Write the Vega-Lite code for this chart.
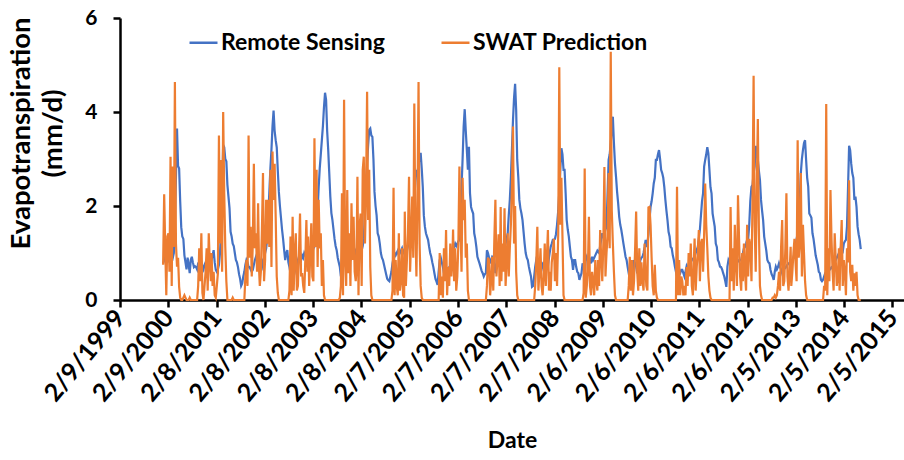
{
"$schema":"https://vega.github.io/schema/vega-lite/v6.json",
"width":784,"height":282,
"autosize":{"type":"none"},
"padding":{"left":120,"top":18,"right":0,"bottom":160},
"background":"white",
"config":{"font":"Lato","view":{"stroke":null}},
"data":{"values":[
{"d":"2000-01-01","rs":0.78,"sw":0.75},{"d":"2000-01-09","rs":0.85,"sw":2.25},{"d":"2000-01-17","rs":0.92,"sw":1.13},{"d":"2000-01-25","rs":0.8,"sw":0.1},{"d":"2000-02-02","rs":0.95,"sw":1.35},{"d":"2000-02-10","rs":0.85,"sw":1.42},{"d":"2000-02-18","rs":0.9,"sw":0.6},{"d":"2000-02-26","rs":1.0,"sw":3.05},{"d":"2000-03-06","rs":0.95,"sw":0.3},{"d":"2000-03-14","rs":0.9,"sw":2.84},{"d":"2000-03-22","rs":1.0,"sw":1.13},{"d":"2000-03-30","rs":1.6,"sw":4.64},{"d":"2000-04-07","rs":2.6,"sw":1.2},{"d":"2000-04-15","rs":3.65,"sw":0.71},{"d":"2000-04-23","rs":2.85,"sw":0.9},{"d":"2000-05-01","rs":2.8,"sw":0.28},{"d":"2000-05-09","rs":2.1,"sw":0.05},{"d":"2000-05-17","rs":1.55,"sw":0},{"d":"2000-05-25","rs":1.35,"sw":0},{"d":"2000-06-02","rs":1.3,"sw":0.05},{"d":"2000-06-10","rs":0.95,"sw":0.1},{"d":"2000-06-18","rs":0.8,"sw":0.05},{"d":"2000-06-26","rs":0.65,"sw":0},{"d":"2000-07-04","rs":0.9,"sw":0},{"d":"2000-07-12","rs":0.75,"sw":0},{"d":"2000-07-20","rs":0.57,"sw":0.05},{"d":"2000-07-28","rs":0.85,"sw":0},{"d":"2000-08-05","rs":0.92,"sw":0},{"d":"2000-08-13","rs":0.8,"sw":0},{"d":"2000-08-21","rs":0.7,"sw":0},{"d":"2000-08-29","rs":0.72,"sw":0},{"d":"2000-09-06","rs":0.7,"sw":0},{"d":"2000-09-14","rs":0.65,"sw":0},{"d":"2000-09-22","rs":0.78,"sw":0.3},{"d":"2000-09-30","rs":0.8,"sw":1.1},{"d":"2000-10-08","rs":0.85,"sw":0.4},{"d":"2000-10-16","rs":0.8,"sw":1.42},{"d":"2000-10-24","rs":0.7,"sw":0.15},{"d":"2000-11-01","rs":0.65,"sw":0},{"d":"2000-11-09","rs":0.75,"sw":0.3},{"d":"2000-11-17","rs":0.8,"sw":0.6},{"d":"2000-11-25","rs":0.85,"sw":1.1},{"d":"2000-12-03","rs":0.8,"sw":0.2},{"d":"2000-12-11","rs":0.75,"sw":1.42},{"d":"2000-12-19","rs":0.85,"sw":0.78},{"d":"2000-12-27","rs":0.8,"sw":0.4},
{"d":"2001-01-01","rs":0.85,"sw":1.0},{"d":"2001-01-09","rs":0.95,"sw":0.3},{"d":"2001-01-17","rs":1.06,"sw":0.6},{"d":"2001-01-25","rs":0.8,"sw":0.1},{"d":"2001-02-02","rs":0.64,"sw":0.05},{"d":"2001-02-10","rs":0.6,"sw":0.3},{"d":"2001-02-18","rs":0.65,"sw":0.57},{"d":"2001-02-26","rs":0.75,"sw":3.5},{"d":"2001-03-06","rs":1.0,"sw":1.2},{"d":"2001-03-14","rs":1.5,"sw":2.98},{"d":"2001-03-22","rs":2.3,"sw":0.6},{"d":"2001-03-30","rs":3.3,"sw":4.0},{"d":"2001-04-07","rs":3.25,"sw":2.27},{"d":"2001-04-15","rs":3.0,"sw":1.13},{"d":"2001-04-23","rs":2.95,"sw":0.4},{"d":"2001-05-01","rs":2.45,"sw":0},{"d":"2001-05-09","rs":2.2,"sw":0},{"d":"2001-05-17","rs":1.95,"sw":0},{"d":"2001-05-25","rs":1.45,"sw":0},{"d":"2001-06-02","rs":1.35,"sw":0},{"d":"2001-06-10","rs":1.2,"sw":0.05},{"d":"2001-06-18","rs":1.15,"sw":0},{"d":"2001-06-26","rs":1.0,"sw":0},{"d":"2001-07-04","rs":0.85,"sw":0},{"d":"2001-07-12","rs":0.8,"sw":0},{"d":"2001-07-20","rs":0.7,"sw":0},{"d":"2001-07-28","rs":0.55,"sw":0},{"d":"2001-08-05","rs":0.45,"sw":0},{"d":"2001-08-13","rs":0.3,"sw":0},{"d":"2001-08-21","rs":0.35,"sw":0},{"d":"2001-08-29","rs":0.5,"sw":0},{"d":"2001-09-06","rs":0.6,"sw":0},{"d":"2001-09-14","rs":0.75,"sw":0.5},{"d":"2001-09-22","rs":0.85,"sw":0.85},{"d":"2001-09-30","rs":0.8,"sw":0.3},{"d":"2001-10-08","rs":0.7,"sw":3.5},{"d":"2001-10-16","rs":0.7,"sw":0.9},{"d":"2001-10-24","rs":0.65,"sw":1.56},{"d":"2001-11-01","rs":0.6,"sw":0.5},{"d":"2001-11-09","rs":0.64,"sw":1.2},{"d":"2001-11-17","rs":0.75,"sw":2.9},{"d":"2001-11-25","rs":0.85,"sw":1.1},{"d":"2001-12-03","rs":0.92,"sw":1.42},{"d":"2001-12-11","rs":0.85,"sw":0.6},{"d":"2001-12-19","rs":0.8,"sw":2.06},{"d":"2001-12-27","rs":0.78,"sw":0.6},
{"d":"2002-01-01","rs":0.85,"sw":0.3},{"d":"2002-01-09","rs":0.75,"sw":0.6},{"d":"2002-01-17","rs":0.7,"sw":1.5},{"d":"2002-01-25","rs":0.85,"sw":2.7},{"d":"2002-02-02","rs":0.9,"sw":0.4},{"d":"2002-02-10","rs":1.0,"sw":0.85},{"d":"2002-02-18","rs":1.1,"sw":2.13},{"d":"2002-02-26","rs":1.3,"sw":1.2},{"d":"2002-03-06","rs":1.8,"sw":2.13},{"d":"2002-03-14","rs":2.3,"sw":1.13},{"d":"2002-03-22","rs":2.8,"sw":2.77},{"d":"2002-03-30","rs":3.2,"sw":0.7},{"d":"2002-04-07","rs":3.7,"sw":3.16},{"d":"2002-04-15","rs":4.03,"sw":2.13},{"d":"2002-04-23","rs":3.6,"sw":2.9},{"d":"2002-05-01","rs":3.4,"sw":1.77},{"d":"2002-05-09","rs":3.25,"sw":0.5},{"d":"2002-05-17","rs":2.75,"sw":0.15},{"d":"2002-05-25","rs":2.3,"sw":0},{"d":"2002-06-02","rs":2.0,"sw":0},{"d":"2002-06-10","rs":1.75,"sw":0},{"d":"2002-06-18","rs":1.5,"sw":0},{"d":"2002-06-26","rs":1.3,"sw":0},{"d":"2002-07-04","rs":1.06,"sw":0},{"d":"2002-07-12","rs":0.85,"sw":0},{"d":"2002-07-20","rs":1.0,"sw":0},{"d":"2002-07-28","rs":1.06,"sw":0},{"d":"2002-08-05","rs":0.8,"sw":0},{"d":"2002-08-13","rs":0.7,"sw":0.2},{"d":"2002-08-21","rs":0.57,"sw":1.35},{"d":"2002-08-29","rs":0.5,"sw":0.1},{"d":"2002-09-06","rs":0.42,"sw":1.77},{"d":"2002-09-14","rs":0.5,"sw":0.2},{"d":"2002-09-22","rs":0.6,"sw":1.0},{"d":"2002-09-30","rs":0.7,"sw":1.42},{"d":"2002-10-08","rs":0.75,"sw":0.2},{"d":"2002-10-16","rs":0.85,"sw":0.3},{"d":"2002-10-24","rs":0.92,"sw":1.0},{"d":"2002-11-01","rs":0.9,"sw":1.84},{"d":"2002-11-09","rs":0.85,"sw":0.5},{"d":"2002-11-17","rs":0.95,"sw":0.57},{"d":"2002-11-25","rs":0.9,"sw":0.3},{"d":"2002-12-03","rs":1.0,"sw":0.15},{"d":"2002-12-11","rs":0.95,"sw":0.85},{"d":"2002-12-19","rs":0.92,"sw":1.7},{"d":"2002-12-27","rs":0.88,"sw":0.6},
{"d":"2003-01-01","rs":0.85,"sw":1.35},{"d":"2003-01-09","rs":0.85,"sw":0.3},{"d":"2003-01-17","rs":0.95,"sw":0.92},{"d":"2003-01-25","rs":1.06,"sw":1.63},{"d":"2003-02-02","rs":1.0,"sw":0.5},{"d":"2003-02-10","rs":1.1,"sw":0.4},{"d":"2003-02-18","rs":1.13,"sw":3.44},{"d":"2003-02-26","rs":1.3,"sw":1.13},{"d":"2003-03-06","rs":1.6,"sw":2.77},{"d":"2003-03-14","rs":1.9,"sw":0.7},{"d":"2003-03-22","rs":2.4,"sw":2.13},{"d":"2003-03-30","rs":2.8,"sw":1.1},{"d":"2003-04-07","rs":3.1,"sw":1.42},{"d":"2003-04-15","rs":3.4,"sw":0.3},{"d":"2003-04-23","rs":3.7,"sw":0.85},{"d":"2003-05-01","rs":4.1,"sw":0.1},{"d":"2003-05-09","rs":4.41,"sw":0},{"d":"2003-05-17","rs":4.26,"sw":0},{"d":"2003-05-25","rs":3.6,"sw":0},{"d":"2003-06-02","rs":3.2,"sw":0},{"d":"2003-06-10","rs":2.7,"sw":0},{"d":"2003-06-18","rs":2.2,"sw":0},{"d":"2003-06-26","rs":1.85,"sw":0},{"d":"2003-07-04","rs":1.7,"sw":0},{"d":"2003-07-12","rs":1.5,"sw":0},{"d":"2003-07-20","rs":1.3,"sw":0},{"d":"2003-07-28","rs":1.15,"sw":0},{"d":"2003-08-05","rs":1.06,"sw":0},{"d":"2003-08-13","rs":0.9,"sw":0},{"d":"2003-08-21","rs":0.8,"sw":0},{"d":"2003-08-29","rs":0.7,"sw":0.05},{"d":"2003-09-06","rs":0.5,"sw":0.3},{"d":"2003-09-14","rs":0.6,"sw":2.27},{"d":"2003-09-22","rs":0.71,"sw":0.1},{"d":"2003-09-30","rs":0.8,"sw":4.26},{"d":"2003-10-08","rs":0.85,"sw":0.85},{"d":"2003-10-16","rs":0.8,"sw":0.3},{"d":"2003-10-24","rs":0.85,"sw":2.34},{"d":"2003-11-01","rs":0.9,"sw":0.57},{"d":"2003-11-09","rs":0.85,"sw":1.42},{"d":"2003-11-17","rs":0.85,"sw":0.3},{"d":"2003-11-25","rs":0.9,"sw":2.06},{"d":"2003-12-03","rs":1.0,"sw":0.85},{"d":"2003-12-11","rs":0.95,"sw":1.77},{"d":"2003-12-19","rs":1.0,"sw":0.6},{"d":"2003-12-27","rs":1.05,"sw":0.4},
{"d":"2004-01-01","rs":0.95,"sw":0.6},{"d":"2004-01-09","rs":1.0,"sw":2.62},{"d":"2004-01-17","rs":0.9,"sw":0.1},{"d":"2004-01-25","rs":1.0,"sw":1.56},{"d":"2004-02-02","rs":1.03,"sw":1.84},{"d":"2004-02-10","rs":1.06,"sw":0.3},{"d":"2004-02-18","rs":1.15,"sw":2.77},{"d":"2004-02-26","rs":1.3,"sw":3.05},{"d":"2004-03-06","rs":1.9,"sw":1.2},{"d":"2004-03-14","rs":2.4,"sw":2.2},{"d":"2004-03-22","rs":2.9,"sw":4.43},{"d":"2004-03-30","rs":3.3,"sw":1.7},{"d":"2004-04-07","rs":3.62,"sw":2.77},{"d":"2004-04-15","rs":3.65,"sw":0.7},{"d":"2004-04-23","rs":3.5,"sw":0.1},{"d":"2004-05-01","rs":3.47,"sw":0},{"d":"2004-05-09","rs":3.0,"sw":0},{"d":"2004-05-17","rs":2.3,"sw":0},{"d":"2004-05-25","rs":2.0,"sw":0},{"d":"2004-06-02","rs":1.8,"sw":0},{"d":"2004-06-10","rs":1.42,"sw":0},{"d":"2004-06-18","rs":1.35,"sw":0},{"d":"2004-06-26","rs":1.2,"sw":0},{"d":"2004-07-04","rs":1.0,"sw":0},{"d":"2004-07-12","rs":0.9,"sw":0},{"d":"2004-07-20","rs":0.85,"sw":0},{"d":"2004-07-28","rs":0.75,"sw":0},{"d":"2004-08-05","rs":0.65,"sw":0},{"d":"2004-08-13","rs":0.55,"sw":0},{"d":"2004-08-21","rs":0.45,"sw":0},{"d":"2004-08-29","rs":0.42,"sw":0},{"d":"2004-09-06","rs":0.4,"sw":0},{"d":"2004-09-14","rs":0.5,"sw":0},{"d":"2004-09-22","rs":0.6,"sw":0},{"d":"2004-09-30","rs":0.78,"sw":0.2},{"d":"2004-10-08","rs":0.9,"sw":2.39},{"d":"2004-10-16","rs":1.0,"sw":0.1},{"d":"2004-10-24","rs":0.95,"sw":0.85},{"d":"2004-11-01","rs":1.0,"sw":0.3},{"d":"2004-11-09","rs":1.05,"sw":0.1},{"d":"2004-11-17","rs":0.95,"sw":1.42},{"d":"2004-11-25","rs":1.0,"sw":0.2},{"d":"2004-12-03","rs":1.05,"sw":0.4},{"d":"2004-12-11","rs":1.1,"sw":1.1},{"d":"2004-12-19","rs":1.0,"sw":0.1},{"d":"2004-12-27","rs":1.05,"sw":0.05},
{"d":"2005-01-01","rs":1.0,"sw":1.88},{"d":"2005-01-09","rs":1.1,"sw":0.3},{"d":"2005-01-17","rs":1.05,"sw":0.85},{"d":"2005-01-25","rs":1.15,"sw":1.42},{"d":"2005-02-02","rs":1.2,"sw":2.62},{"d":"2005-02-10","rs":1.3,"sw":0.6},{"d":"2005-02-18","rs":1.45,"sw":1.3},{"d":"2005-02-26","rs":1.6,"sw":2.2},{"d":"2005-03-06","rs":1.9,"sw":0.9},{"d":"2005-03-14","rs":2.2,"sw":4.18},{"d":"2005-03-22","rs":2.5,"sw":1.5},{"d":"2005-03-30","rs":2.77,"sw":0.5},{"d":"2005-04-07","rs":2.7,"sw":2.1},{"d":"2005-04-15","rs":2.9,"sw":4.64},{"d":"2005-04-23","rs":3.0,"sw":1.2},{"d":"2005-05-01","rs":3.13,"sw":0.3},{"d":"2005-05-09","rs":2.8,"sw":0.05},{"d":"2005-05-17","rs":2.41,"sw":0},{"d":"2005-05-25","rs":1.8,"sw":0},{"d":"2005-06-02","rs":1.56,"sw":0},{"d":"2005-06-10","rs":1.42,"sw":0},{"d":"2005-06-18","rs":1.35,"sw":0},{"d":"2005-06-26","rs":1.28,"sw":0},{"d":"2005-07-04","rs":1.13,"sw":0},{"d":"2005-07-12","rs":1.0,"sw":0},{"d":"2005-07-20","rs":0.92,"sw":0},{"d":"2005-07-28","rs":0.8,"sw":0},{"d":"2005-08-05","rs":0.7,"sw":0},{"d":"2005-08-13","rs":0.57,"sw":0},{"d":"2005-08-21","rs":0.45,"sw":0},{"d":"2005-08-29","rs":0.39,"sw":0},{"d":"2005-09-06","rs":0.32,"sw":0},{"d":"2005-09-14","rs":0.6,"sw":0},{"d":"2005-09-22","rs":0.85,"sw":1.0},{"d":"2005-09-30","rs":0.9,"sw":0.1},{"d":"2005-10-08","rs":0.8,"sw":0.5},{"d":"2005-10-16","rs":0.7,"sw":0.05},{"d":"2005-10-24","rs":0.57,"sw":1.1},{"d":"2005-11-01","rs":0.65,"sw":0.4},{"d":"2005-11-09","rs":0.7,"sw":1.49},{"d":"2005-11-17","rs":0.6,"sw":0.1},{"d":"2005-11-25","rs":0.65,"sw":0.7},{"d":"2005-12-03","rs":0.7,"sw":0.3},{"d":"2005-12-11","rs":0.71,"sw":1.2},{"d":"2005-12-19","rs":0.85,"sw":0.5},{"d":"2005-12-27","rs":1.0,"sw":0.9},
{"d":"2006-01-01","rs":1.06,"sw":1.5},{"d":"2006-01-09","rs":1.13,"sw":0.4},{"d":"2006-01-17","rs":1.2,"sw":1.1},{"d":"2006-01-25","rs":1.15,"sw":0.2},{"d":"2006-02-02","rs":1.2,"sw":0.5},{"d":"2006-02-10","rs":1.25,"sw":1.2},{"d":"2006-02-18","rs":1.28,"sw":2.84},{"d":"2006-02-26","rs":1.84,"sw":1.6},{"d":"2006-03-06","rs":2.4,"sw":0.6},{"d":"2006-03-14","rs":3.0,"sw":2.6},{"d":"2006-03-22","rs":3.69,"sw":1.7},{"d":"2006-03-30","rs":4.06,"sw":2.13},{"d":"2006-04-07","rs":3.6,"sw":0.9},{"d":"2006-04-15","rs":3.2,"sw":1.2},{"d":"2006-04-23","rs":2.77,"sw":0.2},{"d":"2006-05-01","rs":3.26,"sw":0},{"d":"2006-05-09","rs":2.27,"sw":0},{"d":"2006-05-17","rs":1.98,"sw":0},{"d":"2006-05-25","rs":1.9,"sw":0},{"d":"2006-06-02","rs":1.84,"sw":0},{"d":"2006-06-10","rs":1.42,"sw":0},{"d":"2006-06-18","rs":1.3,"sw":0},{"d":"2006-06-26","rs":1.13,"sw":0},{"d":"2006-07-04","rs":0.92,"sw":0},{"d":"2006-07-12","rs":0.85,"sw":0},{"d":"2006-07-20","rs":0.78,"sw":0},{"d":"2006-07-28","rs":0.7,"sw":0},{"d":"2006-08-05","rs":0.62,"sw":0},{"d":"2006-08-13","rs":0.57,"sw":0},{"d":"2006-08-21","rs":0.5,"sw":0},{"d":"2006-08-29","rs":0.55,"sw":0},{"d":"2006-09-06","rs":0.57,"sw":0},{"d":"2006-09-14","rs":1.06,"sw":0.3},{"d":"2006-09-22","rs":1.0,"sw":0.9},{"d":"2006-09-30","rs":0.9,"sw":0.85},{"d":"2006-10-08","rs":0.78,"sw":0.1},{"d":"2006-10-16","rs":0.85,"sw":0.4},{"d":"2006-10-24","rs":0.92,"sw":0.92},{"d":"2006-11-01","rs":0.9,"sw":0.2},{"d":"2006-11-09","rs":0.85,"sw":1.3},{"d":"2006-11-17","rs":0.57,"sw":2.13},{"d":"2006-11-25","rs":0.7,"sw":0.5},{"d":"2006-12-03","rs":0.85,"sw":0.9},{"d":"2006-12-11","rs":0.85,"sw":1.4},{"d":"2006-12-19","rs":0.8,"sw":0.3},{"d":"2006-12-27","rs":0.85,"sw":1.98},
{"d":"2007-01-01","rs":0.9,"sw":0.4},{"d":"2007-01-09","rs":0.95,"sw":1.2},{"d":"2007-01-17","rs":1.05,"sw":0.6},{"d":"2007-01-25","rs":1.13,"sw":1.95},{"d":"2007-02-02","rs":1.2,"sw":0.3},{"d":"2007-02-10","rs":1.3,"sw":0.8},{"d":"2007-02-18","rs":1.42,"sw":1.42},{"d":"2007-02-26","rs":1.8,"sw":0.5},{"d":"2007-03-06","rs":2.13,"sw":1.1},{"d":"2007-03-14","rs":2.6,"sw":1.6},{"d":"2007-03-22","rs":3.2,"sw":2.4},{"d":"2007-03-30","rs":3.83,"sw":3.69},{"d":"2007-04-07","rs":4.3,"sw":1.2},{"d":"2007-04-15","rs":4.6,"sw":2.0},{"d":"2007-04-23","rs":4.04,"sw":0.6},{"d":"2007-05-01","rs":2.98,"sw":0.1},{"d":"2007-05-09","rs":2.62,"sw":0},{"d":"2007-05-17","rs":2.13,"sw":0},{"d":"2007-05-25","rs":1.95,"sw":0},{"d":"2007-06-02","rs":1.84,"sw":0},{"d":"2007-06-10","rs":1.7,"sw":0},{"d":"2007-06-18","rs":1.45,"sw":0},{"d":"2007-06-26","rs":1.2,"sw":0},{"d":"2007-07-04","rs":1.0,"sw":0},{"d":"2007-07-12","rs":0.9,"sw":0},{"d":"2007-07-20","rs":0.85,"sw":0},{"d":"2007-07-28","rs":0.71,"sw":0},{"d":"2007-08-05","rs":0.6,"sw":0},{"d":"2007-08-13","rs":0.5,"sw":0},{"d":"2007-08-21","rs":0.28,"sw":0},{"d":"2007-08-29","rs":0.3,"sw":0},{"d":"2007-09-06","rs":0.5,"sw":0},{"d":"2007-09-14","rs":0.71,"sw":0.3},{"d":"2007-09-22","rs":0.85,"sw":0.8},{"d":"2007-09-30","rs":0.8,"sw":1.56},{"d":"2007-10-08","rs":0.78,"sw":0.2},{"d":"2007-10-16","rs":0.8,"sw":0.6},{"d":"2007-10-24","rs":0.57,"sw":1.1},{"d":"2007-11-01","rs":0.65,"sw":0.3},{"d":"2007-11-09","rs":0.75,"sw":0.1},{"d":"2007-11-17","rs":0.7,"sw":0.5},{"d":"2007-11-25","rs":0.72,"sw":1.2},{"d":"2007-12-03","rs":0.71,"sw":0.3},{"d":"2007-12-11","rs":0.75,"sw":0.9},{"d":"2007-12-19","rs":0.72,"sw":1.49},{"d":"2007-12-27","rs":0.9,"sw":0.2},
{"d":"2008-01-01","rs":1.0,"sw":0.6},{"d":"2008-01-09","rs":1.13,"sw":0.2},{"d":"2008-01-17","rs":1.2,"sw":0.8},{"d":"2008-01-25","rs":1.28,"sw":1.0},{"d":"2008-02-02","rs":1.28,"sw":1.3},{"d":"2008-02-10","rs":1.3,"sw":0.4},{"d":"2008-02-18","rs":1.4,"sw":1.0},{"d":"2008-02-26","rs":1.6,"sw":0.3},{"d":"2008-03-06","rs":1.9,"sw":1.4},{"d":"2008-03-14","rs":2.3,"sw":4.95},{"d":"2008-03-22","rs":2.8,"sw":1.6},{"d":"2008-03-30","rs":3.23,"sw":2.6},{"d":"2008-04-07","rs":3.1,"sw":1.35},{"d":"2008-04-15","rs":2.77,"sw":0.1},{"d":"2008-04-23","rs":2.77,"sw":0},{"d":"2008-05-01","rs":2.27,"sw":0},{"d":"2008-05-09","rs":1.7,"sw":0},{"d":"2008-05-17","rs":1.5,"sw":0},{"d":"2008-05-25","rs":1.35,"sw":0},{"d":"2008-06-02","rs":1.13,"sw":0},{"d":"2008-06-10","rs":0.92,"sw":0},{"d":"2008-06-18","rs":0.85,"sw":0},{"d":"2008-06-26","rs":0.64,"sw":0},{"d":"2008-07-04","rs":0.85,"sw":0},{"d":"2008-07-12","rs":0.85,"sw":0},{"d":"2008-07-20","rs":0.7,"sw":0},{"d":"2008-07-28","rs":0.6,"sw":0},{"d":"2008-08-05","rs":0.57,"sw":0},{"d":"2008-08-13","rs":0.43,"sw":0},{"d":"2008-08-21","rs":0.5,"sw":0},{"d":"2008-08-29","rs":0.57,"sw":0},{"d":"2008-09-06","rs":0.78,"sw":0},{"d":"2008-09-14","rs":0.7,"sw":0.15},{"d":"2008-09-22","rs":0.6,"sw":2.8},{"d":"2008-09-30","rs":0.85,"sw":0.05},{"d":"2008-10-08","rs":0.92,"sw":0.3},{"d":"2008-10-16","rs":0.85,"sw":0.6},{"d":"2008-10-24","rs":0.8,"sw":1.77},{"d":"2008-11-01","rs":0.85,"sw":0.3},{"d":"2008-11-09","rs":0.78,"sw":0.1},{"d":"2008-11-17","rs":0.92,"sw":0.6},{"d":"2008-11-25","rs":0.85,"sw":0.4},{"d":"2008-12-03","rs":0.9,"sw":0.1},{"d":"2008-12-11","rs":0.95,"sw":0.85},{"d":"2008-12-19","rs":1.0,"sw":0.4},{"d":"2008-12-27","rs":1.05,"sw":0.2},
{"d":"2009-01-01","rs":1.03,"sw":0.85},{"d":"2009-01-09","rs":1.0,"sw":0.3},{"d":"2009-01-17","rs":1.15,"sw":1.49},{"d":"2009-01-25","rs":1.28,"sw":0.9},{"d":"2009-02-02","rs":1.42,"sw":0.4},{"d":"2009-02-10","rs":1.35,"sw":1.2},{"d":"2009-02-18","rs":1.4,"sw":2.83},{"d":"2009-02-26","rs":1.5,"sw":0.5},{"d":"2009-03-06","rs":1.56,"sw":1.0},{"d":"2009-03-14","rs":2.27,"sw":1.35},{"d":"2009-03-22","rs":2.98,"sw":2.7},{"d":"2009-03-30","rs":3.1,"sw":1.1},{"d":"2009-04-07","rs":3.34,"sw":5.28},{"d":"2009-04-15","rs":3.6,"sw":1.9},{"d":"2009-04-23","rs":3.9,"sw":1.2},{"d":"2009-05-01","rs":3.34,"sw":0.6},{"d":"2009-05-09","rs":2.9,"sw":0.1},{"d":"2009-05-17","rs":2.62,"sw":0},{"d":"2009-05-25","rs":2.3,"sw":0},{"d":"2009-06-02","rs":2.06,"sw":0},{"d":"2009-06-10","rs":1.77,"sw":0},{"d":"2009-06-18","rs":1.6,"sw":0},{"d":"2009-06-26","rs":1.49,"sw":0},{"d":"2009-07-04","rs":1.35,"sw":0},{"d":"2009-07-12","rs":1.2,"sw":0},{"d":"2009-07-20","rs":1.06,"sw":0},{"d":"2009-07-28","rs":0.92,"sw":0},{"d":"2009-08-05","rs":0.85,"sw":0},{"d":"2009-08-13","rs":0.7,"sw":0},{"d":"2009-08-21","rs":0.57,"sw":0.3},{"d":"2009-08-29","rs":0.45,"sw":0.92},{"d":"2009-09-06","rs":0.28,"sw":0.2},{"d":"2009-09-14","rs":0.43,"sw":0.85},{"d":"2009-09-22","rs":0.6,"sw":0.1},{"d":"2009-09-30","rs":0.85,"sw":0.4},{"d":"2009-10-08","rs":0.78,"sw":1.06},{"d":"2009-10-16","rs":0.71,"sw":1.88},{"d":"2009-10-24","rs":0.57,"sw":0.6},{"d":"2009-11-01","rs":0.65,"sw":0.2},{"d":"2009-11-09","rs":0.71,"sw":1.1},{"d":"2009-11-17","rs":0.85,"sw":0.3},{"d":"2009-11-25","rs":0.9,"sw":0.8},{"d":"2009-12-03","rs":0.92,"sw":0.4},{"d":"2009-12-11","rs":1.0,"sw":0.2},{"d":"2009-12-19","rs":1.13,"sw":1.2},{"d":"2009-12-27","rs":1.28,"sw":0.6},
{"d":"2010-01-01","rs":1.13,"sw":0.3},{"d":"2010-01-09","rs":1.2,"sw":0.2},{"d":"2010-01-17","rs":1.4,"sw":1.97},{"d":"2010-01-25","rs":1.7,"sw":1.98},{"d":"2010-02-02","rs":1.98,"sw":1.6},{"d":"2010-02-10","rs":2.1,"sw":0.9},{"d":"2010-02-18","rs":2.27,"sw":0.3},{"d":"2010-02-26","rs":2.48,"sw":0.1},{"d":"2010-03-06","rs":2.6,"sw":0.75},{"d":"2010-03-14","rs":2.98,"sw":0.2},{"d":"2010-03-22","rs":2.98,"sw":0.05},{"d":"2010-03-30","rs":3.1,"sw":0},{"d":"2010-04-07","rs":3.19,"sw":0},{"d":"2010-04-15","rs":3.0,"sw":0},{"d":"2010-04-23","rs":2.77,"sw":0},{"d":"2010-05-01","rs":2.7,"sw":0},{"d":"2010-05-09","rs":2.6,"sw":0},{"d":"2010-05-17","rs":2.4,"sw":0},{"d":"2010-05-25","rs":2.13,"sw":0},{"d":"2010-06-02","rs":1.9,"sw":0},{"d":"2010-06-10","rs":1.7,"sw":0},{"d":"2010-06-18","rs":1.45,"sw":0},{"d":"2010-06-26","rs":1.35,"sw":0},{"d":"2010-07-04","rs":1.13,"sw":0},{"d":"2010-07-12","rs":1.1,"sw":0},{"d":"2010-07-20","rs":0.95,"sw":0},{"d":"2010-07-28","rs":0.85,"sw":0},{"d":"2010-08-05","rs":0.71,"sw":0},{"d":"2010-08-13","rs":0.6,"sw":0},{"d":"2010-08-21","rs":0.5,"sw":2.41},{"d":"2010-08-29","rs":0.43,"sw":0.1},{"d":"2010-09-06","rs":0.6,"sw":0.85},{"d":"2010-09-14","rs":0.57,"sw":0.1},{"d":"2010-09-22","rs":0.64,"sw":0.5},{"d":"2010-09-30","rs":0.64,"sw":0.4},{"d":"2010-10-08","rs":0.57,"sw":0.1},{"d":"2010-10-16","rs":0.5,"sw":0.3},{"d":"2010-10-24","rs":0.6,"sw":0.1},{"d":"2010-11-01","rs":0.71,"sw":0.7},{"d":"2010-11-09","rs":0.64,"sw":0.3},{"d":"2010-11-17","rs":0.75,"sw":1.0},{"d":"2010-11-25","rs":0.85,"sw":0.5},{"d":"2010-12-03","rs":0.8,"sw":1.2},{"d":"2010-12-11","rs":0.85,"sw":0.3},{"d":"2010-12-19","rs":0.88,"sw":0.1},{"d":"2010-12-27","rs":0.9,"sw":0.9},
{"d":"2011-01-01","rs":0.92,"sw":1.31},{"d":"2011-01-09","rs":1.0,"sw":0.2},{"d":"2011-01-17","rs":1.06,"sw":0.7},{"d":"2011-01-25","rs":1.13,"sw":1.0},{"d":"2011-02-02","rs":1.3,"sw":1.49},{"d":"2011-02-10","rs":1.5,"sw":0.4},{"d":"2011-02-18","rs":1.8,"sw":1.2},{"d":"2011-02-26","rs":2.1,"sw":1.3},{"d":"2011-03-06","rs":2.27,"sw":0.6},{"d":"2011-03-14","rs":2.84,"sw":1.4},{"d":"2011-03-22","rs":2.98,"sw":2.48},{"d":"2011-03-30","rs":3.1,"sw":1.6},{"d":"2011-04-07","rs":3.25,"sw":1.1},{"d":"2011-04-15","rs":3.12,"sw":0.5},{"d":"2011-04-23","rs":2.77,"sw":0.2},{"d":"2011-05-01","rs":2.4,"sw":0.05},{"d":"2011-05-09","rs":2.27,"sw":0},{"d":"2011-05-17","rs":1.84,"sw":0},{"d":"2011-05-25","rs":1.7,"sw":0},{"d":"2011-06-02","rs":1.56,"sw":0},{"d":"2011-06-10","rs":1.2,"sw":0},{"d":"2011-06-18","rs":1.13,"sw":0},{"d":"2011-06-26","rs":0.85,"sw":0},{"d":"2011-07-04","rs":0.8,"sw":0},{"d":"2011-07-12","rs":0.71,"sw":0},{"d":"2011-07-20","rs":0.7,"sw":0},{"d":"2011-07-28","rs":0.65,"sw":0},{"d":"2011-08-05","rs":0.57,"sw":0},{"d":"2011-08-13","rs":0.5,"sw":0},{"d":"2011-08-21","rs":0.4,"sw":0},{"d":"2011-08-29","rs":0.28,"sw":0},{"d":"2011-09-06","rs":0.71,"sw":0},{"d":"2011-09-14","rs":0.85,"sw":0},{"d":"2011-09-22","rs":0.8,"sw":0},{"d":"2011-09-30","rs":0.78,"sw":1.98},{"d":"2011-10-08","rs":0.75,"sw":0.4},{"d":"2011-10-16","rs":0.71,"sw":1.1},{"d":"2011-10-24","rs":0.71,"sw":0.2},{"d":"2011-11-01","rs":0.75,"sw":1.6},{"d":"2011-11-09","rs":0.8,"sw":0.8},{"d":"2011-11-17","rs":0.85,"sw":0.3},{"d":"2011-11-25","rs":0.85,"sw":2.23},{"d":"2011-12-03","rs":0.82,"sw":1.3},{"d":"2011-12-11","rs":0.85,"sw":0.5},{"d":"2011-12-19","rs":0.85,"sw":0.2},{"d":"2011-12-27","rs":0.95,"sw":1.0},
{"d":"2012-01-01","rs":1.0,"sw":0.4},{"d":"2012-01-09","rs":1.1,"sw":1.2},{"d":"2012-01-17","rs":1.13,"sw":0.6},{"d":"2012-01-25","rs":1.2,"sw":0.2},{"d":"2012-02-02","rs":1.28,"sw":1.6},{"d":"2012-02-10","rs":1.3,"sw":0.5},{"d":"2012-02-18","rs":1.6,"sw":1.3},{"d":"2012-02-26","rs":2.1,"sw":1.17},{"d":"2012-03-06","rs":2.41,"sw":0.4},{"d":"2012-03-14","rs":2.45,"sw":2.2},{"d":"2012-03-22","rs":2.7,"sw":4.77},{"d":"2012-03-30","rs":2.84,"sw":1.6},{"d":"2012-04-07","rs":3.28,"sw":0.6},{"d":"2012-04-15","rs":3.1,"sw":2.4},{"d":"2012-04-23","rs":2.98,"sw":3.85},{"d":"2012-05-01","rs":2.75,"sw":1.5},{"d":"2012-05-09","rs":2.55,"sw":0.3},{"d":"2012-05-17","rs":2.13,"sw":0.1},{"d":"2012-05-25","rs":1.9,"sw":0},{"d":"2012-06-02","rs":1.7,"sw":0},{"d":"2012-06-10","rs":1.35,"sw":0},{"d":"2012-06-18","rs":1.2,"sw":0},{"d":"2012-06-26","rs":1.05,"sw":0},{"d":"2012-07-04","rs":0.85,"sw":0},{"d":"2012-07-12","rs":0.8,"sw":0},{"d":"2012-07-20","rs":0.78,"sw":0},{"d":"2012-07-28","rs":0.64,"sw":0},{"d":"2012-08-05","rs":0.55,"sw":0},{"d":"2012-08-13","rs":0.5,"sw":0.05},{"d":"2012-08-21","rs":0.43,"sw":0.05},{"d":"2012-08-29","rs":0.6,"sw":0.1},{"d":"2012-09-06","rs":0.71,"sw":0.05},{"d":"2012-09-14","rs":0.65,"sw":0.1},{"d":"2012-09-22","rs":0.7,"sw":0.3},{"d":"2012-09-30","rs":0.78,"sw":0.6},{"d":"2012-10-08","rs":0.7,"sw":0.2},{"d":"2012-10-16","rs":0.65,"sw":1.13},{"d":"2012-10-24","rs":0.57,"sw":1.7},{"d":"2012-11-01","rs":0.62,"sw":0.3},{"d":"2012-11-09","rs":0.68,"sw":0.4},{"d":"2012-11-17","rs":0.68,"sw":1.1},{"d":"2012-11-25","rs":0.72,"sw":2.27},{"d":"2012-12-03","rs":0.75,"sw":0.5},{"d":"2012-12-11","rs":0.78,"sw":0.2},{"d":"2012-12-19","rs":0.78,"sw":0.6},{"d":"2012-12-27","rs":0.8,"sw":1.13},
{"d":"2013-01-01","rs":0.85,"sw":0.3},{"d":"2013-01-09","rs":0.85,"sw":0.6},{"d":"2013-01-17","rs":0.9,"sw":1.0},{"d":"2013-01-25","rs":1.0,"sw":1.3},{"d":"2013-02-02","rs":1.13,"sw":0.8},{"d":"2013-02-10","rs":1.3,"sw":0.4},{"d":"2013-02-18","rs":1.42,"sw":3.4},{"d":"2013-02-26","rs":1.8,"sw":0.9},{"d":"2013-03-06","rs":2.13,"sw":1.2},{"d":"2013-03-14","rs":2.7,"sw":2.7},{"d":"2013-03-22","rs":3.0,"sw":0.5},{"d":"2013-03-30","rs":3.19,"sw":1.6},{"d":"2013-04-07","rs":3.34,"sw":1.0},{"d":"2013-04-15","rs":3.4,"sw":0.4},{"d":"2013-04-23","rs":2.98,"sw":0.1},{"d":"2013-05-01","rs":2.6,"sw":0},{"d":"2013-05-09","rs":2.41,"sw":0},{"d":"2013-05-17","rs":1.84,"sw":0},{"d":"2013-05-25","rs":1.8,"sw":0},{"d":"2013-06-02","rs":1.75,"sw":0},{"d":"2013-06-10","rs":1.42,"sw":0},{"d":"2013-06-18","rs":1.3,"sw":0},{"d":"2013-06-26","rs":1.13,"sw":0},{"d":"2013-07-04","rs":0.95,"sw":0},{"d":"2013-07-12","rs":0.85,"sw":0},{"d":"2013-07-20","rs":0.75,"sw":0},{"d":"2013-07-28","rs":0.6,"sw":0},{"d":"2013-08-05","rs":0.57,"sw":0},{"d":"2013-08-13","rs":0.43,"sw":0},{"d":"2013-08-21","rs":0.4,"sw":0},{"d":"2013-08-29","rs":0.43,"sw":0},{"d":"2013-09-06","rs":0.5,"sw":0.3},{"d":"2013-09-14","rs":0.57,"sw":0.2},{"d":"2013-09-22","rs":0.6,"sw":4.17},{"d":"2013-09-30","rs":0.62,"sw":0.1},{"d":"2013-10-08","rs":0.65,"sw":1.1},{"d":"2013-10-16","rs":0.64,"sw":0.4},{"d":"2013-10-24","rs":0.66,"sw":2.34},{"d":"2013-11-01","rs":0.7,"sw":1.3},{"d":"2013-11-09","rs":0.71,"sw":0.6},{"d":"2013-11-17","rs":0.75,"sw":0.2},{"d":"2013-11-25","rs":0.8,"sw":1.42},{"d":"2013-12-03","rs":0.85,"sw":0.85},{"d":"2013-12-11","rs":0.9,"sw":0.3},{"d":"2013-12-19","rs":0.95,"sw":0.5},{"d":"2013-12-27","rs":1.0,"sw":1.1},
{"d":"2014-01-01","rs":1.0,"sw":0.2},{"d":"2014-01-09","rs":1.1,"sw":1.1},{"d":"2014-01-17","rs":1.05,"sw":1.7},{"d":"2014-01-25","rs":1.03,"sw":0.3},{"d":"2014-02-02","rs":1.2,"sw":0.85},{"d":"2014-02-10","rs":1.25,"sw":0.6},{"d":"2014-02-18","rs":1.28,"sw":0.1},{"d":"2014-02-26","rs":1.56,"sw":1.1},{"d":"2014-03-06","rs":2.4,"sw":0.8},{"d":"2014-03-14","rs":3.28,"sw":2.55},{"d":"2014-03-22","rs":3.19,"sw":0.6},{"d":"2014-03-30","rs":2.9,"sw":0.4},{"d":"2014-04-07","rs":2.7,"sw":0.75},{"d":"2014-04-15","rs":2.6,"sw":0.2},{"d":"2014-04-23","rs":2.13,"sw":0.57},{"d":"2014-05-01","rs":2.2,"sw":0.3},{"d":"2014-05-09","rs":1.98,"sw":0.6},{"d":"2014-05-17","rs":1.56,"sw":0.1},{"d":"2014-05-25","rs":1.4,"sw":0},{"d":"2014-06-02","rs":1.28,"sw":0},{"d":"2014-06-10","rs":1.08,"sw":0}
]},
"encoding":{
 "x":{"field":"d","type":"temporal",
  "scale":{"type":"utc","domain":[{"year":1999,"month":2,"date":9,"utc":true},{"year":2015,"month":5,"date":3,"utc":true}]},
  "axis":{"values":[{"year":1999,"month":2,"date":9,"utc":true},{"year":2000,"month":2,"date":9,"utc":true},{"year":2001,"month":2,"date":8,"utc":true},{"year":2002,"month":2,"date":8,"utc":true},{"year":2003,"month":2,"date":8,"utc":true},{"year":2004,"month":2,"date":8,"utc":true},{"year":2005,"month":2,"date":7,"utc":true},{"year":2006,"month":2,"date":7,"utc":true},{"year":2007,"month":2,"date":7,"utc":true},{"year":2008,"month":2,"date":7,"utc":true},{"year":2009,"month":2,"date":6,"utc":true},{"year":2010,"month":2,"date":6,"utc":true},{"year":2011,"month":2,"date":6,"utc":true},{"year":2012,"month":2,"date":6,"utc":true},{"year":2013,"month":2,"date":5,"utc":true},{"year":2014,"month":2,"date":5,"utc":true},{"year":2015,"month":2,"date":5,"utc":true}],
   "format":"%-m/%-d/%Y","labelAngle":-50,"labelAlign":"right","labelBaseline":"middle","labelOverlap":false,"labelFlush":false,
   "labelFontSize":25,"labelFontWeight":"bold","labelColor":"black","labelPadding":6,
   "tickSize":7,"tickWidth":2.5,"tickColor":"black","domainColor":"black","domainWidth":2.5,"grid":false,
   "title":"Date","titleFontSize":23,"titleFontWeight":"bold","titleColor":"black","titleY":140,"titleBaseline":"middle"}},
 "y":{"field":"et","type":"quantitative","scale":{"domain":[0,6],"nice":false},
  "axis":{"values":[0,2,4,6],"grid":false,"domainColor":"black","domainWidth":2.5,"tickColor":"black","tickWidth":2.5,"tickSize":7,
   "labelFontSize":21,"labelFontWeight":"bold","labelColor":"black","labelPadding":16,
   "title":["Evapotranspiration","(mm/d)"],"titleFontSize":27.5,"titleFontWeight":"bold","titleColor":"black","titleLineHeight":32,
   "titleAngle":-90,"titleAlign":"center","titleBaseline":"middle","titleX":-99,"titleY":115}}
},
"layer":[
{"data":{"values":[{}]},
 "mark":{"type":"rule","color":"black","strokeWidth":2.5},
 "encoding":{"x":null,"y":{"datum":6,"type":"quantitative"}}},
{"transform":[{"fold":["rs","sw"],"as":["series","et"]}],
 "mark":{"type":"line","strokeWidth":2.2,"interpolate":"linear"},
 "encoding":{
  "color":{"field":"series","type":"nominal","scale":{"domain":["rs","sw"],"range":["#4472C4","#ED7D31"]},
   "legend":{"orient":"none","legendX":68,"legendY":9,"direction":"horizontal","title":null,"padding":0,
    "labelExpr":"datum.value == 'rs' ? 'Remote Sensing' : 'SWAT Prediction'",
    "labelFontSize":23,"labelFontWeight":"bold","labelColor":"black","labelOffset":2,"labelLimit":400,
    "symbolType":"stroke","symbolStrokeWidth":2.5,"symbolSize":784,"columnPadding":51}}
 }},
{"data":{"values":[{}]},
 "mark":{"type":"text","text":"Fig. 2","fontSize":24,"fontWeight":"bold","color":"black"},
 "encoding":{"x":{"datum":{"year":2013,"month":10,"date":13,"utc":true},"type":"temporal"},
  "y":{"datum":5.32,"type":"quantitative"}}}
]
}
